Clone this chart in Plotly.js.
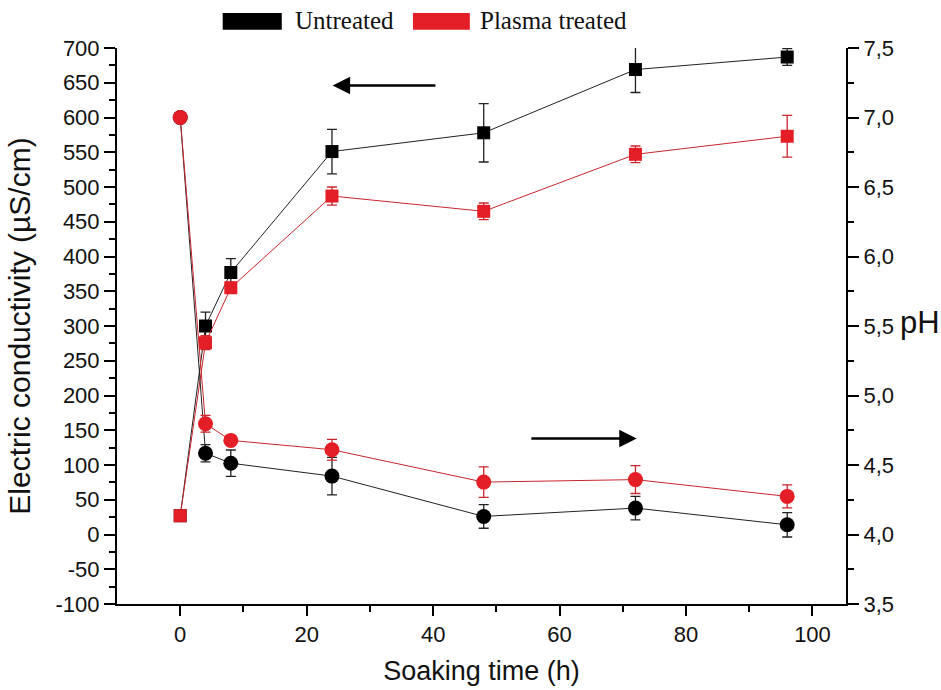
<!DOCTYPE html>
<html>
<head>
<meta charset="utf-8">
<script src="https://cdn.plot.ly/plotly-3.0.1.min.js"></script>
<style>html,body{margin:0;padding:0;background:#fff;}#chart{width:941px;height:690px;}</style>
</head>
<body>
<div id="chart"></div>
<script>
// Soaking time (h)
const time = [0, 4, 8, 24, 48, 72, 96];

// Electric conductivity (µS/cm), left axis
const ecUntreated = [27, 300, 377, 551, 578, 669, 687];
const ecUntreatedErr = [0, 20, 20, 32, 42, 33, 12];
const ecPlasma = [27, 276, 355, 487, 465, 547, 573];
const ecPlasmaErr = [0, 10, 8, 13, 12, 12, 30];

// pH, right axis
const phUntreated = [7.0, 4.585, 4.513, 4.42, 4.13, 4.19, 4.07];
const phUntreatedErr = [0, 0.062, 0.095, 0.135, 0.085, 0.085, 0.088];
const phPlasma = [7.0, 4.797, 4.677, 4.61, 4.377, 4.395, 4.274];
const phPlasmaErr = [0, 0.06, 0.03, 0.075, 0.11, 0.10, 0.083];

const seriesNames = ['Untreated', 'Plasma treated'];

// Tick labels
const ecTickVals = [-100, -50, 0, 50, 100, 150, 200, 250, 300, 350, 400, 450, 500, 550, 600, 650, 700];
const ecTickText = ['-100', '-50', '0', '50', '100', '150', '200', '250', '300', '350', '400', '450', '500', '550', '600', '650', '700'];
const phTickVals = [3.5, 4.0, 4.5, 5.0, 5.5, 6.0, 6.5, 7.0, 7.5];
const phTickText = ['3,5', '4,0', '4,5', '5,0', '5,5', '6,0', '6,5', '7,0', '7,5'];
const timeTickVals = [0, 20, 40, 60, 80, 100];

const BLACK = '#000000';
const RED = '#e41e26';
const REDLINE = '#c8262c';

function tr(x, y, err, axis, color, lineColor, symbol, name) {
  return {
    x: x, y: y, yaxis: axis, name: name, type: 'scatter', mode: 'lines+markers',
    line: {color: lineColor, width: 1},
    marker: {symbol: symbol, size: symbol === 'square' ? 13 : 15, color: color, line: {width: 0}},
    error_y: {type: 'data', array: err, visible: true, color: lineColor, thickness: 1.3, width: 5},
    showlegend: false, cliponaxis: false
  };
}

const data = [
  tr(time, ecUntreated, ecUntreatedErr, 'y', BLACK, '#222', 'square', seriesNames[0]),
  tr(time, phUntreated, phUntreatedErr, 'y2', BLACK, '#222', 'circle', seriesNames[0]),
  tr(time, ecPlasma, ecPlasmaErr, 'y', RED, REDLINE, 'square', seriesNames[1]),
  tr(time, phPlasma, phPlasmaErr, 'y2', RED, REDLINE, 'circle', seriesNames[1])
];

const tickFont = {family: 'Liberation Sans, Arial, sans-serif', size: 22, color: '#111'};
const legFont = {family: 'Liberation Serif, Times New Roman, serif', size: 25, color: '#111'};

const layout = {
  width: 941, height: 690,
  paper_bgcolor: '#fff', plot_bgcolor: '#fff',
  margin: {l: 117, r: 95, t: 48, b: 86},
  showlegend: false,
  xaxis: {
    range: [-10, 105.3], showgrid: false, zeroline: false,
    showline: true, linecolor: '#000', linewidth: 2, mirror: false,
    ticks: 'outside', ticklen: 10, tickwidth: 2, tickcolor: '#000',
    tickvals: timeTickVals,
    minor: {tickvals: [10, 30, 50, 70, 90], ticks: 'outside', ticklen: 6, tickwidth: 2, tickcolor: '#000'},
    tickfont: tickFont,
    title: {text: 'Soaking time (h)', font: {family: 'Liberation Sans, Arial, sans-serif', size: 27, color: '#111'}, standoff: 15}
  },
  yaxis: {
    range: [-100, 700], showgrid: false, zeroline: false,
    showline: true, linecolor: '#000', linewidth: 2,
    ticks: 'outside', ticklen: 11, tickwidth: 2, tickcolor: '#000',
    tickvals: ecTickVals, ticktext: ecTickText,
    minor: {dtick: 25, tick0: 0, ticks: 'outside', ticklen: 6, tickwidth: 2, tickcolor: '#000'},
    tickfont: tickFont,
    title: {text: 'Electric conductivity (µS/cm)', font: {family: 'Liberation Sans, Arial, sans-serif', size: 30, color: '#111'}, standoff: 16}
  },
  yaxis2: {
    range: [3.5, 7.5], overlaying: 'y', side: 'right', showgrid: false, zeroline: false,
    showline: true, linecolor: '#000', linewidth: 2,
    ticks: 'outside', ticklen: 11, tickwidth: 2, tickcolor: '#000',
    tickvals: phTickVals, ticktext: phTickText,
    minor: {dtick: 0.25, tick0: 3.5, ticks: 'outside', ticklen: 6, tickwidth: 2, tickcolor: '#000'},
    tickfont: tickFont
  },
  shapes: [
    {type: 'rect', xref: 'paper', yref: 'paper', x0: 0.145, x1: 0.226, y0: 1.033, y1: 1.063, fillcolor: BLACK, line: {width: 0}},
    {type: 'rect', xref: 'paper', yref: 'paper', x0: 0.406, x1: 0.484, y0: 1.033, y1: 1.063, fillcolor: RED, line: {width: 0}}
  ],
  annotations: [
    {xref: 'paper', yref: 'paper', x: 0.241, y: 1.049, xanchor: 'left', yanchor: 'middle', text: seriesNames[0], showarrow: false, font: legFont},
    {xref: 'paper', yref: 'paper', x: 0.495, y: 1.049, xanchor: 'left', yanchor: 'middle', text: seriesNames[1], showarrow: false, font: legFont},
    {xref: 'paper', yref: 'paper', x: 1.072, y: 0.506, xanchor: 'left', yanchor: 'middle', text: 'pH', showarrow: false,
     font: {family: 'Liberation Sans, Arial, sans-serif', size: 31, color: '#111'}},
    {x: 24.1, y: 646, xref: 'x', yref: 'y', ax: 40.6, ay: 646, axref: 'x', ayref: 'y', text: '', showarrow: true,
     arrowhead: 2, arrowsize: 1.4, arrowwidth: 2.5, arrowcolor: '#000'},
    {x: 72.2, y: 138, xref: 'x', yref: 'y', ax: 55.3, ay: 138, axref: 'x', ayref: 'y', text: '', showarrow: true,
     arrowhead: 2, arrowsize: 1.4, arrowwidth: 2.5, arrowcolor: '#000'}
  ]
};

Plotly.newPlot('chart', data, layout, {displayModeBar: false, staticPlot: true});
</script>
</body>
</html>
